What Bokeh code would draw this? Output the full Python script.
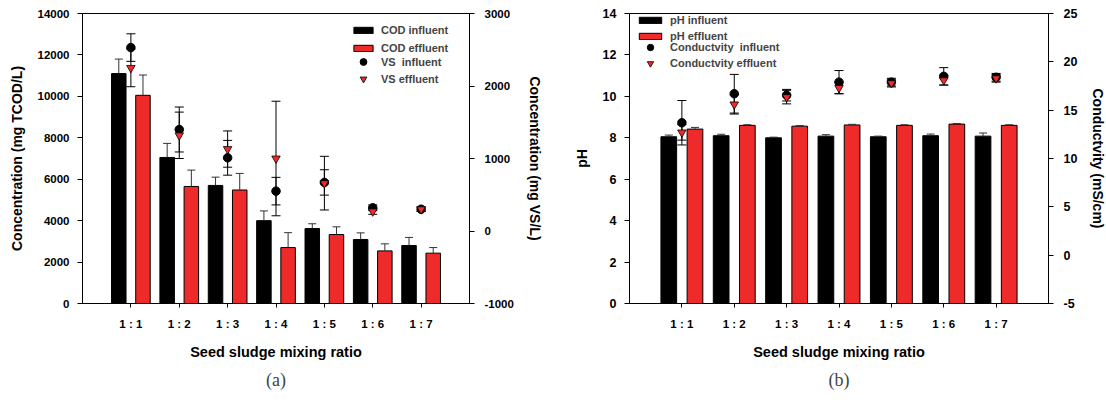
import numpy as np
from bokeh.plotting import figure
from bokeh.models import (ColumnDataSource, Range1d, LinearAxis, FixedTicker,
                          Legend, LegendItem, Title)
from bokeh.layouts import row
from bokeh.transform import dodge
from bokeh.embed import file_html
from bokeh.resources import INLINE

# ---------------- data ----------------
ratios = ["1 : 1", "1 : 2", "1 : 3", "1 : 4", "1 : 5", "1 : 6", "1 : 7"]

cod_in = [11100, 7050, 5700, 4000, 3620, 3090, 2800]
cod_in_err = [700, 680, 400, 470, 230, 320, 390]
cod_out = [10050, 5650, 5480, 2700, 3330, 2540, 2430]
cod_out_err = [980, 790, 800, 720, 370, 340, 270]
vs_in = [2530, 1400, 1010, 550, 670, 320, 300]
vs_in_err = [190, 310, 240, 190, 175, 40, 30]
vs_out = [2250, 1320, 1130, 1000, 660, 270, 300]
vs_out_err = [260, 320, 250, 790, 370, 40, 30]

ph_in = [8.05, 8.10, 8.00, 8.08, 8.05, 8.10, 8.08]
ph_in_err = [0.08, 0.07, 0.03, 0.07, 0.03, 0.08, 0.15]
ph_out = [8.42, 8.60, 8.56, 8.62, 8.60, 8.66, 8.60]
ph_out_err = [0.08, 0.03, 0.03, 0.03, 0.03, 0.03, 0.03]
cond_in = [13.7, 16.7, 16.55, 17.9, 17.9, 18.5, 18.4]
cond_in_err = [2.3, 2.0, 0.6, 1.2, 0.4, 0.9, 0.4]
cond_out = [12.7, 15.6, 16.35, 17.3, 17.8, 18.1, 18.3]
cond_out_err = [0.8, 1.0, 0.7, 0.6, 0.4, 0.5, 0.4]

cod_ticks = [0, 2000, 4000, 6000, 8000, 10000, 12000, 14000]
vs_ticks = [-1000, 0, 1000, 2000, 3000]
ph_ticks = [0, 2, 4, 6, 8, 10, 12, 14]
cond_ticks = [-5, 0, 5, 10, 15, 20, 25]

RED = "#EE2A2A"
FONT = "Liberation Sans"
ERRC = "#333333"


def plus(v, e):
    return [a + b for a, b in zip(v, e)]


def minus(v, e):
    return [a - b for a, b in zip(v, e)]


def style_axis(ax, tick_size, label_size, label_standoff, axis_label_standoff):
    ax.axis_line_color = "black"
    ax.major_tick_line_color = "black"
    ax.minor_tick_line_color = None
    ax.major_tick_out = 5
    ax.major_tick_in = 0
    ax.major_label_text_font = FONT
    ax.major_label_text_font_style = "bold"
    ax.major_label_text_font_size = tick_size
    ax.major_label_text_color = "black"
    ax.major_label_standoff = label_standoff
    ax.axis_label_text_font = FONT
    ax.axis_label_text_font_style = "bold"
    ax.axis_label_text_font_size = label_size
    ax.axis_label_text_color = "black"
    ax.axis_label_standoff = axis_label_standoff


def set_ticks(ax, ticks):
    ax.ticker = FixedTicker(ticks=ticks)
    ax.major_label_overrides = {t: str(t) for t in ticks}


def make_panel(bar_in, bar_in_err, bar_out, bar_out_err,
               pt_in, pt_in_err, pt_out, pt_out_err,
               y_end, y_ticks, y2_start, y2_end, y2_ticks,
               ylabel, y2label, bar_labels, pt_labels, caption,
               frame_w, b_left, b_right, ytick_size,
               leg1_loc, leg2_loc, glyph_w, pt_glyph_h, leg1_spacing):
    xs = list(range(1, len(ratios) + 1))
    src = ColumnDataSource(dict(
        x=xs,
        b_in=bar_in, b_in_hi=plus(bar_in, bar_in_err),
        b_out=bar_out, b_out_hi=plus(bar_out, bar_out_err),
        p_in=pt_in, p_in_hi=plus(pt_in, pt_in_err), p_in_lo=minus(pt_in, pt_in_err),
        p_out=pt_out, p_out_hi=plus(pt_out, pt_out_err), p_out_lo=minus(pt_out, pt_out_err),
    ))
    p = figure(frame_width=frame_w, frame_height=290,
               x_range=Range1d(0, len(ratios) + 1), y_range=Range1d(0, y_end),
               output_backend="svg", toolbar_location=None,
               min_border_left=b_left, min_border_right=b_right,
               min_border_top=13, min_border_bottom=99,
               background_fill_color="white", border_fill_color="white")
    p.extra_y_ranges = {"y2": Range1d(y2_start, y2_end)}
    p.xgrid.grid_line_color = None
    p.ygrid.grid_line_color = None
    p.outline_line_color = "black"
    p.outline_line_alpha = 1.0

    xl = dodge("x", -0.25)
    xr = dodge("x", 0.25)

    r_bin = p.vbar(x=xl, top="b_in", bottom=0, width=0.3, source=src,
                   fill_color="black", line_color="black", line_width=1)
    r_bout = p.vbar(x=xr, top="b_out", bottom=0, width=0.3, source=src,
                    fill_color=RED, line_color="black", line_width=1)
    # bar error bars (upper only)
    p.segment(x0=xl, y0="b_in", x1=xl, y1="b_in_hi", source=src, line_color=ERRC, line_width=1)
    p.scatter(x=xl, y="b_in_hi", marker="dash", size=8, source=src, line_color=ERRC, line_width=1)
    p.segment(x0=xr, y0="b_out", x1=xr, y1="b_out_hi", source=src, line_color=ERRC, line_width=1)
    p.scatter(x=xr, y="b_out_hi", marker="dash", size=8, source=src, line_color=ERRC, line_width=1)

    # point error bars
    for c in ("p_in", "p_out"):
        p.segment(x0="x", y0=c + "_lo", x1="x", y1=c + "_hi", source=src,
                  line_color="black", line_width=1, y_range_name="y2")
        p.scatter(x="x", y=c + "_lo", marker="dash", size=9, source=src,
                  line_color="black", line_width=1, y_range_name="y2")
        p.scatter(x="x", y=c + "_hi", marker="dash", size=9, source=src,
                  line_color="black", line_width=1, y_range_name="y2")

    r_pin = p.scatter(x="x", y="p_in", marker="circle", size=8.5, source=src,
                      fill_color="black", line_color="black", y_range_name="y2")
    r_pout = p.scatter(x="x", y="p_out", marker="inverted_triangle", size=8.5, source=src,
                       fill_color=RED, line_color="black", line_width=0.8, y_range_name="y2")

    # axes
    xax = p.xaxis[0]
    xax.ticker = FixedTicker(ticks=xs)
    xax.major_label_overrides = {x: r for x, r in zip(xs, ratios)}
    xax.axis_label = "Seed sludge mixing ratio"
    style_axis(xax, "11.5px", "14.5px", 10, 11)
    xax.major_tick_out = 4

    yax = p.yaxis[0]
    set_ticks(yax, y_ticks)
    yax.axis_label = ylabel
    style_axis(yax, ytick_size, "14px", 8, 10)

    y2 = LinearAxis(y_range_name="y2", axis_label=y2label)
    set_ticks(y2, y2_ticks)
    style_axis(y2, ytick_size, "14px", 10, 10)
    p.add_layout(y2, "right")

    # legends
    common = dict(padding=0, margin=0, border_line_color=None, background_fill_alpha=0,
                  label_text_font=FONT, label_text_font_style="bold",
                  label_text_font_size="11px", label_standoff=6, glyph_width=glyph_w)
    leg1 = Legend(items=[LegendItem(label=bar_labels[0], renderers=[r_bin]),
                         LegendItem(label=bar_labels[1], renderers=[r_bout])],
                  location=leg1_loc, glyph_height=8, label_height=13, spacing=leg1_spacing,
                  **common)
    leg2 = Legend(items=[LegendItem(label=pt_labels[0], renderers=[r_pin]),
                         LegendItem(label=pt_labels[1], renderers=[r_pout])],
                  location=leg2_loc, glyph_height=pt_glyph_h, label_height=13, spacing=0,
                  **common)
    p.add_layout(leg1)
    p.add_layout(leg2)

    t = Title(text=caption, align="center", text_font="Liberation Serif",
              text_font_style="normal", text_font_size="18px", standoff=10)
    p.add_layout(t, "below")
    return p


p1 = make_panel(cod_in, cod_in_err, cod_out, cod_out_err,
                vs_in, vs_in_err, vs_out, vs_out_err,
                14000, cod_ticks, -1000, 3000, vs_ticks,
                "Concentration (mg TCOD/L)", "Concentration (mg VS/L)",
                ["COD influent", "COD effluent"], ["VS  influent", "VS effluent"], "(a)",
                387, 82, 101, "11.5px", (269, 249), (269, 216), 24, 17, 5)

p2 = make_panel(ph_in, ph_in_err, ph_out, ph_out_err,
                cond_in, cond_in_err, cond_out, cond_out_err,
                14, ph_ticks, -5, 25, cond_ticks,
                "pH", "Conductvity (mS/cm)",
                ["pH influent", "pH effluent"], ["Conductvity  influent", "Conductvity effluent"], "(b)",
                419, 57, 60, "12.5px", (7, 261), (7, 232), 28, 16, 3)

layout = row(p1, p2, spacing=0)
open("out.html", "w").write(file_html(layout, INLINE))
